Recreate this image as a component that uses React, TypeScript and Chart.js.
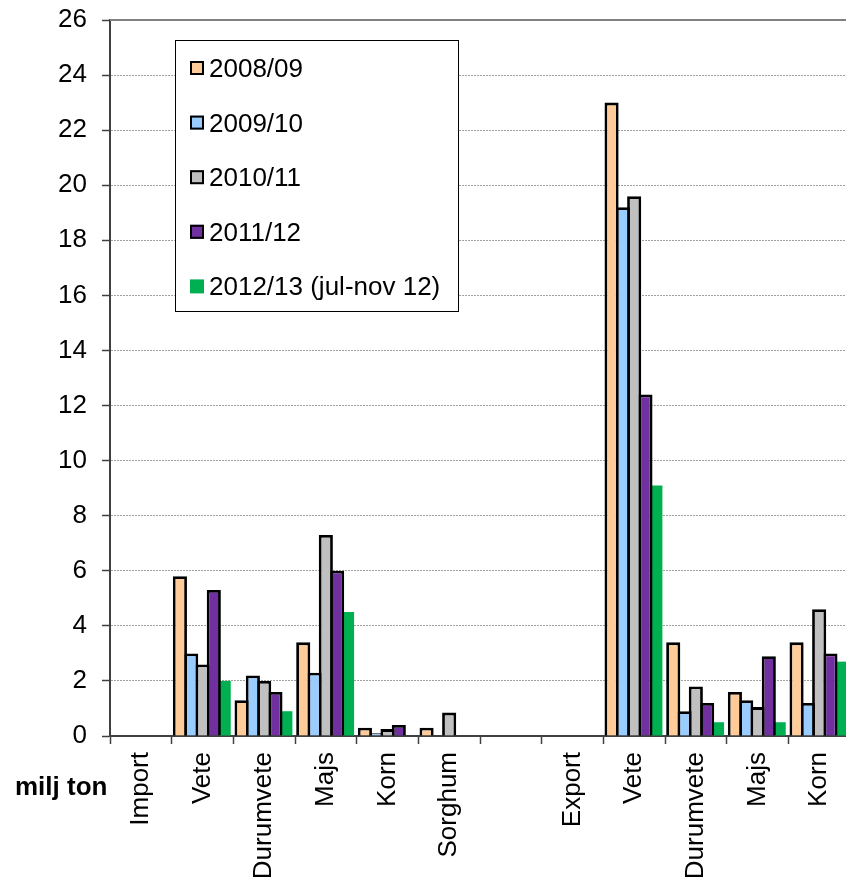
import React, { useEffect, useRef } from 'react';
import { Chart, registerables } from 'chart.js';

Chart.register(...registerables);

const FONT = "'Liberation Sans', Arial, sans-serif";

const categories = ['Import', 'Vete', 'Durumvete', 'Majs', 'Korn', 'Sorghum', '', 'Export', 'Vete', 'Durumvete', 'Majs', 'Korn'];

const seriesLabels = ['2008/09', '2009/10', '2010/11', '2011/12', '2012/13 (jul-nov 12)'];
const seriesColors = ['#FFCC99', '#99CCFF', '#C0C0C0', '#7030A0', '#00B050'];

const s2008 = [null, 5.8, 1.3, 3.4, 0.3, 0.3, null, null, 23.0, 3.4, 1.6, 3.4];
const s2009 = [null, 3.0, 2.2, 2.3, 0.1, null, null, null, 19.2, 0.9, 1.3, 1.2];
const s2010 = [null, 2.6, 2.0, 7.3, 0.25, 0.85, null, null, 19.6, 1.8, 1.05, 4.6];
const s2011 = [null, 5.3, 1.6, 6.0, 0.4, null, null, null, 12.4, 1.2, 2.9, 3.0];
const s2012 = [null, 2.0, 0.9, 4.5, null, null, null, null, 9.1, 0.5, 0.5, 2.7];

const seriesData = [s2008, s2009, s2010, s2011, s2012];

const yMin = 0;
const yMax = 26;
const yStep = 2;
const unitLabel = 'milj ton';

const overlayPlugin = {
  id: 'overlay',
  afterDraw(chart: any) {
    const { ctx, chartArea } = chart;
    ctx.save();
    // top frame line
    ctx.strokeStyle = '#808080';
    ctx.lineWidth = 2;
    ctx.setLineDash([]);
    ctx.beginPath();
    ctx.moveTo(chartArea.left, chartArea.top);
    ctx.lineTo(chartArea.right, chartArea.top);
    ctx.stroke();

    // legend box
    const bx = 176, by = 41, bw = 283, bh = 271;
    ctx.fillStyle = '#ffffff';
    ctx.fillRect(bx, by, bw, bh);
    ctx.strokeStyle = '#000000';
    ctx.lineWidth = 1;
    ctx.strokeRect(bx - 0.5, by - 0.5, bw, bh);

    ctx.font = `26px ${FONT}`;
    ctx.textBaseline = 'alphabetic';
    ctx.textAlign = 'left';
    chart.data.datasets.forEach((ds: any, i: number) => {
      const cy = 68 + i * 54.6;
      ctx.fillStyle = ds.backgroundColor;
      ctx.fillRect(190, cy - 7, 14, 14);
      if (ds.borderWidth > 0) {
        ctx.strokeStyle = '#000';
        ctx.lineWidth = 2;
        ctx.strokeRect(191, cy - 6, 12, 12);
      }
      ctx.fillStyle = '#000';
      ctx.fillText(ds.label, 209, cy + 9);
    });

    // unit label
    ctx.font = `bold 26px ${FONT}`;
    ctx.fillStyle = '#000';
    ctx.fillText(unitLabel, 15, 795);
    ctx.restore();
  },
};

export default function App() {
  const ref = useRef<HTMLCanvasElement | null>(null);

  useEffect(() => {
    if (!ref.current) return;
    const chart = new Chart(ref.current, {
      type: 'bar',
      data: {
        labels: categories,
        datasets: seriesLabels.map((label, i) => ({
          label,
          data: seriesData[i],
          backgroundColor: seriesColors[i],
          borderColor: '#000000',
          borderWidth: i === 4 ? 0 : 2.8,
          barPercentage: i === 4 ? 1 : 1.25,
          categoryPercentage: 0.916,
        })),
      },
      options: {
        responsive: false,
        animation: false,
        events: [],
        layout: { padding: { top: 20, right: 2, left: 0, bottom: 0 } },
        plugins: {
          legend: { display: false },
          tooltip: { enabled: false },
        },
        scales: {
          x: {
            ticks: {
              color: '#000',
              font: { size: 26, family: FONT },
              minRotation: 90,
              maxRotation: 90,
              autoSkip: false,
              padding: 8,
            },
            grid: {
              drawOnChartArea: false,
              drawTicks: true,
              tickLength: 8,
              tickColor: '#404040',
              tickWidth: 1.5,
              offset: true,
            },
            border: { display: true, color: '#404040', width: 2 },
            afterFit(scale: any) {
              scale.height = 147;
              scale.paddingLeft = 0;
              scale.paddingRight = 0;
            },
          },
          y: {
            min: yMin,
            max: yMax,
            ticks: {
              stepSize: yStep,
              color: '#000',
              font: { size: 26, family: FONT },
              padding: 15,
            },
            grid: {
              color: '#a0a0a0',
              lineWidth: 1,
              drawTicks: true,
              tickLength: 8,
              tickColor: '#404040',
              tickWidth: 1.5,
            },
            border: { display: true, color: '#404040', width: 2, dash: [2, 1] },
            afterFit(scale: any) {
              scale.width = 110;
              scale.paddingTop = 0;
              scale.paddingBottom = 0;
            },
          },
        },
      },
      plugins: [overlayPlugin],
    } as any);
    return () => chart.destroy();
  }, []);

  return (
    <div style={{ position: 'absolute', left: 0, top: 0, width: 846, height: 883, overflow: 'hidden', background: '#fff' }}>
      <canvas ref={ref} width={852} height={883} style={{ display: 'block' }} />
    </div>
  );
}
